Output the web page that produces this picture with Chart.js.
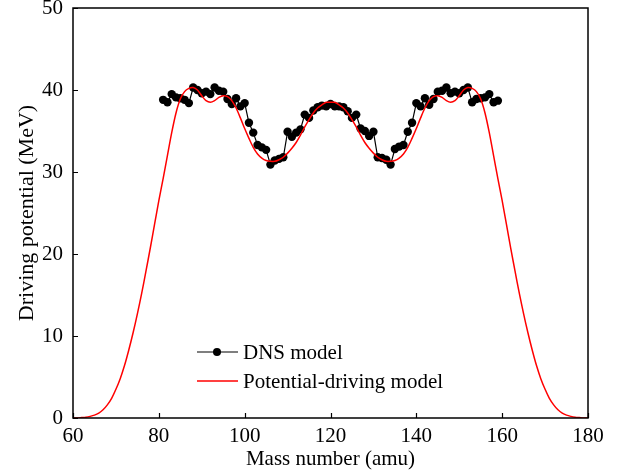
<!DOCTYPE html>
<html>
<head>
<meta charset="utf-8">
<script src="https://cdn.jsdelivr.net/npm/chart.js@4"></script>
<style>
  html, body { margin: 0; padding: 0; background: #fff; }
  #wrap { width: 622px; height: 472px; }
</style>
</head>
<body>
<div id="wrap"><canvas id="grafico"></canvas></div>
<script>
// DNS model, mass number 81..159
const massaDns = [];
for (let a = 81; a <= 159; a++) massaDns.push(a);
const potencialDns = [
  38.8, 38.5, 39.5, 39.1, 39.0, 38.8, 38.4, 40.3, 40.0, 39.6,
  39.8, 39.5, 40.3, 39.9, 39.8, 38.9, 38.3, 39.0, 38.0, 38.4,
  36.0, 34.8, 33.3, 33.0, 32.7, 30.9, 31.4, 31.6, 31.8, 34.9,
  34.3, 34.8, 35.2, 37.0, 36.6, 37.5, 37.9, 38.1, 38.0, 38.3,
  38.0, 38.0, 37.9, 37.4, 36.6, 37.0, 35.3, 35.0, 34.4, 34.9,
  31.8, 31.7, 31.5, 30.9, 32.8, 33.1, 33.3, 34.9, 36.0, 38.4,
  38.0, 39.0, 38.2, 38.9, 39.8, 39.9, 40.3, 39.6, 39.8, 39.6,
  40.0, 40.3, 38.5, 38.9, 39.0, 39.1, 39.5, 38.5, 38.7
];

// potential-driving model, mass number 60..180
const massaModelo = [];
for (let a = 60; a <= 180; a++) massaModelo.push(a);
const potencialModelo = [
  0, 0, 0.05, 0.1, 0.2, 0.35, 0.6, 1.0, 1.6, 2.4,
  3.5, 4.8, 6.4, 8.3, 10.4, 12.7, 15.2, 17.9, 20.7, 23.6,
  26.5, 29.2, 32.0, 34.8, 37.2, 38.9, 39.8, 40.2, 40.3, 40.0,
  39.3, 38.7, 38.5, 38.7, 39.1, 39.3, 39.2, 38.7, 37.8, 36.6,
  35.3, 34.1, 33.0, 32.2, 31.7, 31.4, 31.3, 31.3, 31.5, 31.8,
  32.3, 32.9, 33.6, 34.5, 35.5, 36.4, 37.2, 37.8, 38.2, 38.5,
  38.5,
  38.5, 38.2, 37.8, 37.2, 36.4, 35.5, 34.5, 33.6, 32.9, 32.3,
  31.8, 31.5, 31.3, 31.3, 31.4, 31.7, 32.2, 33.0, 34.1, 35.3,
  36.6, 37.8, 38.7, 39.2, 39.3, 39.1, 38.7, 38.5, 38.7, 39.3,
  40.0, 40.3, 40.2, 39.8, 38.9, 37.2, 34.8, 32.0, 29.2, 26.5,
  23.6, 20.7, 17.9, 15.2, 12.7, 10.4, 8.3, 6.4, 4.8, 3.5,
  2.4, 1.6, 1.0, 0.6, 0.35, 0.2, 0.1, 0.05, 0, 0
];

const ticksX = [60, 80, 100, 120, 140, 160, 180];
const ticksY = [0, 10, 20, 30, 40, 50];

const fonte = '"Liberation Serif", "Times New Roman", serif';

// box + inward ticks
const moldura = {
  id: 'moldura',
  afterDatasetsDraw(chart) {
    const ctx = chart.ctx;
    const a = chart.chartArea;
    const sx = chart.scales.x, sy = chart.scales.y;
    ctx.save();
    ctx.strokeStyle = '#000';
    ctx.lineWidth = 1.5;
    ctx.strokeRect(a.left, a.top, a.right - a.left, a.bottom - a.top);
    ctx.lineWidth = 1.2;
    ctx.beginPath();
    ticksX.forEach(v => {
      const px = Math.round(sx.getPixelForValue(v)) + 0.5;
      ctx.moveTo(px, a.bottom); ctx.lineTo(px, a.bottom - 5);
    });
    ticksY.forEach(v => {
      const py = Math.round(sy.getPixelForValue(v)) + 0.5;
      ctx.moveTo(a.left, py); ctx.lineTo(a.left + 5, py);
    });
    ctx.stroke();
    ctx.restore();
  }
};

const legenda = {
  id: 'legenda',
  afterDraw(chart) {
    const ctx = chart.ctx;
    ctx.save();
    ctx.font = '21px ' + fonte;
    ctx.textBaseline = 'middle';
    ctx.fillStyle = '#000';
    // DNS
    ctx.strokeStyle = '#000';
    ctx.lineWidth = 1.2;
    ctx.beginPath(); ctx.moveTo(197, 352); ctx.lineTo(238, 352); ctx.stroke();
    ctx.beginPath(); ctx.arc(217, 352, 4, 0, Math.PI * 2); ctx.fill();
    ctx.fillText('DNS model', 243, 353);
    // modelo
    ctx.strokeStyle = '#ff0000';
    ctx.lineWidth = 1.5;
    ctx.beginPath(); ctx.moveTo(197, 381); ctx.lineTo(238, 381); ctx.stroke();
    ctx.fillText('Potential-driving model', 243, 382);
    ctx.restore();
  }
};

const ctx = document.getElementById('grafico').getContext('2d');
const grafico = new Chart(ctx, {
  type: 'line',
  data: {
    datasets: [
      {
        label: 'DNS model',
        data: massaDns.map((m, i) => ({ x: m, y: potencialDns[i] })),
        borderColor: '#000',
        backgroundColor: '#000',
        borderWidth: 1.2,
        pointRadius: 4.2,
        pointBorderWidth: 0,
        tension: 0,
        order: 2
      },
      {
        label: 'Potential-driving model',
        data: massaModelo.map((m, i) => ({ x: m, y: potencialModelo[i] })),
        borderColor: '#ff0000',
        borderWidth: 1.5,
        pointRadius: 0,
        tension: 0.3,
        order: 1
      }
    ]
  },
  options: {
    responsive: true,
    maintainAspectRatio: false,
    animation: false,
    layout: { padding: { top: 8, right: 34, left: 0, bottom: 0 } },
    plugins: { legend: { display: false }, tooltip: { enabled: false } },
    scales: {
      x: {
        type: 'linear',
        min: 60, max: 180,
        afterBuildTicks: s => { s.ticks = ticksX.map(v => ({ value: v })); },
        afterFit: s => { s.height = 54; s.paddingLeft = 0; s.paddingRight = 0; },
        grid: { display: false, drawTicks: false },
        border: { display: false },
        ticks: { color: '#000', font: { family: fonte, size: 21 }, padding: 6, maxRotation: 0 },
        title: { display: true, text: 'Mass number (amu)', color: '#000', font: { family: fonte, size: 21 }, padding: { top: -3, bottom: 0 } }
      },
      y: {
        min: 0, max: 50,
        afterBuildTicks: s => { s.ticks = ticksY.map(v => ({ value: v })); },
        afterFit: s => { s.width = 73; s.paddingTop = 0; s.paddingBottom = 0; },
        grid: { display: false, drawTicks: false },
        border: { display: false },
        ticks: { color: '#000', font: { family: fonte, size: 21 }, padding: 10 },
        title: { display: true, text: 'Driving potential (MeV)', color: '#000', font: { family: fonte, size: 22 }, padding: { top: 14, bottom: 0 } }
      }
    }
  },
  plugins: [moldura, legenda]
});
</script>
</body>
</html>
